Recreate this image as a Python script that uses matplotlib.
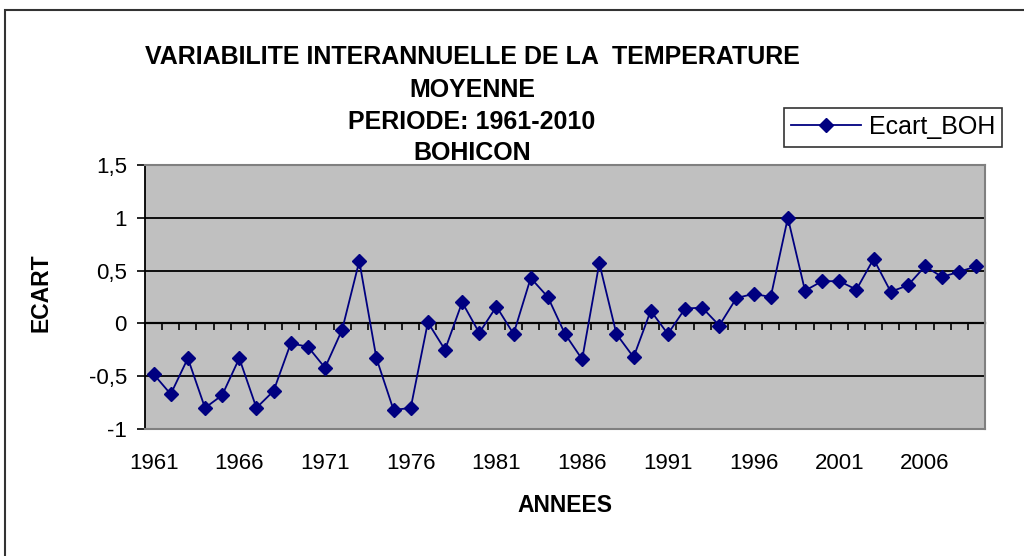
import matplotlib
matplotlib.use('Agg')
import matplotlib.pyplot as plt
from matplotlib.patches import Rectangle
from matplotlib.lines import Line2D
import numpy as np

# Écart de température moyenne annuelle, Bohicon
annees = list(range(1961, 2010))
ecart_boh = [-0.48, -0.67, -0.33, -0.80, -0.68, -0.33, -0.80, -0.64, -0.19, -0.22,
             -0.42, -0.06, 0.59, -0.33, -0.82, -0.80, 0.01, -0.25, 0.20, -0.09,
             0.16, -0.10, 0.43, 0.25, -0.10, -0.34, 0.57, -0.10, -0.32, 0.12,
             -0.10, 0.14, 0.15, -0.02, 0.24, 0.28, 0.25, 1.00, 0.31, 0.40,
             0.40, 0.32, 0.61, 0.30, 0.36, 0.54, 0.44, 0.49, 0.54]
etiquettes_x = ['1961', '1966', '1971', '1976', '1981', '1986', '1991', '1996', '2001', '2006']
graduations_y = [-1, -0.5, 0, 0.5, 1, 1.5]

plt.rcParams['font.family'] = ['Liberation Sans', 'DejaVu Sans']

fig = plt.figure(figsize=(10.24, 5.56), dpi=100)
fig.patch.set_facecolor('white')
ax = fig.add_axes([145 / 1024, 127 / 556, 840 / 1024, 264 / 556])
ax.set_facecolor('#C0C0C0')

x = np.arange(len(annees))
ax.plot(x, ecart_boh, color='#000080', lw=1.3, marker='D', markersize=7,
        markerfacecolor='#000080', markeredgecolor='#000080', zorder=3)

ax.set_xlim(-0.5, len(annees) - 0.5)
ax.set_ylim(-1, 1.5)
ax.set_yticks(graduations_y)
ax.set_yticklabels([f'{v:g}'.replace('.', ',') for v in graduations_y], fontsize=16)
ax.tick_params(axis='y', length=6, width=1.2, direction='out', pad=7, colors='black')

# libellés des années tous les 5 ans, en bas du cadre
pos_lab = [annees.index(int(a)) for a in etiquettes_x]
ax.set_xticks(pos_lab)
ax.set_xticklabels(etiquettes_x, fontsize=16)
ax.tick_params(axis='x', length=0, pad=17)

ax.yaxis.grid(True, color='black', lw=1.3)
ax.set_axisbelow(True)

for s in ['top', 'right', 'bottom']:
    ax.spines[s].set_color('#808080')
    ax.spines[s].set_linewidth(1.5)
ax.spines['left'].set_color('black')
ax.spines['left'].set_linewidth(1.3)

# axe des abscisses qui coupe à zéro, graduations entre catégories
axe0 = ax.secondary_xaxis(1 / 2.5)
axe0.set_xticks(np.arange(-0.5, len(annees), 1))
axe0.tick_params(axis='x', length=5, width=1.2, direction='out', labelbottom=False, colors='black')
axe0.spines['bottom'].set_color('#202020')
axe0.spines['bottom'].set_linewidth(1.6)

# titre sur quatre lignes
titre = ['VARIABILITE INTERANNUELLE DE LA  TEMPERATURE', 'MOYENNE',
         'PERIODE: 1961-2010', 'BOHICON']
for ligne, yp in zip(titre, [57, 90, 122, 153]):
    fig.text(472 / 1024, 1 - yp / 556, ligne, ha='center', va='center',
             fontsize=18, fontweight='bold')

fig.text(41 / 1024, 1 - 293 / 556, 'ECART', rotation=90, ha='center', va='center',
         fontsize=16.5, fontweight='bold')
fig.text(565 / 1024, 1 - 506 / 556, 'ANNEES', ha='center', va='center',
         fontsize=16.5, fontweight='bold')

poignee = Line2D([], [], color='#000080', lw=1.3, marker='D', markersize=7)
leg = fig.legend([poignee], ['Ecart_BOH'], loc='center',
                 bbox_to_anchor=(893 / 1024, 1 - 127 / 556), fontsize=18,
                 frameon=True, fancybox=False, handlelength=2.8, handletextpad=0.3,
                 borderpad=0.3, borderaxespad=0)
leg.get_frame().set_edgecolor('black')
leg.get_frame().set_linewidth(1.2)

# cadre de la zone de graphique
fig.add_artist(Rectangle((5 / 1024, -0.05), 1.2, 1 - 10 / 556 + 0.05,
                         transform=fig.transFigure, fill=False,
                         edgecolor='#333333', lw=1.5))

fig.savefig('out.png', dpi=100)
